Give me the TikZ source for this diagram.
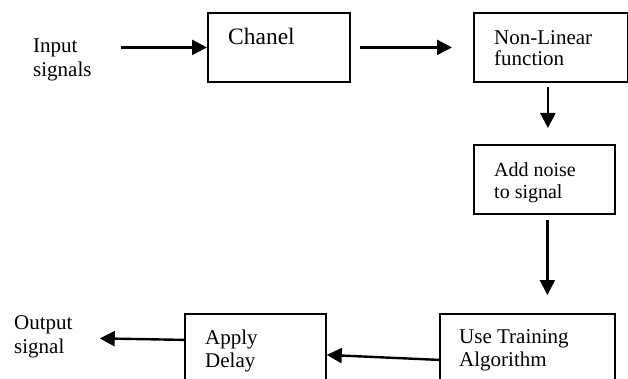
\documentclass[tikz,border=0pt]{standalone}
\usepackage{fontspec}
\setmainfont{Liberation Serif}
\usetikzlibrary{arrows.meta}

\tikzset{
  blk/.style={draw, line width=1.8pt, inner sep=0pt, anchor=north west},
  lbl/.style={inner sep=0pt, anchor=base west, align=left, font=\fontsize{21}{23.5}\selectfont},
  arr/.style={line width=2.4pt, -{Triangle[length=15pt,width=15pt]}}
}

\begin{document}
\begin{tikzpicture}[x=1pt, y=-1pt]
\clip (0,0) rectangle (628,379);

% blocks
\node[blk, minimum width=142pt, minimum height=69pt] (chanel) at (207,12) {};
\node[blk, minimum width=154pt, minimum height=69pt] (nonlin) at (473,12) {};
\node[blk, minimum width=141pt, minimum height=69pt] (noise) at (473,144) {};
\node[blk, minimum width=175pt, minimum height=80pt] (train) at (439,313) {};
\node[blk, minimum width=141pt, minimum height=80pt] (delay) at (184,313) {};

% texts (base = last line)
\node[lbl, font=\fontsize{21}{24}\selectfont] (input) at (33,77) {Input\\signals};
\node[lbl, font=\fontsize{23.5}{26}\selectfont] (chaneltxt) at (228,45) {Chanel};
\node[lbl, font=\fontsize{21}{21}\selectfont] (nonlintxt) at (494,66) {Non-Linear\\function};
\node[lbl, font=\fontsize{20}{22}\selectfont] (noisetxt) at (494,199) {Add noise\\to signal};
\node[lbl, font=\fontsize{21}{23}\selectfont] (traintxt) at (459,366) {Use Training\\Algorithm};
\node[lbl, font=\fontsize{21}{23}\selectfont] (delaytxt) at (205,367) {Apply\\Delay};
\node[lbl, font=\fontsize{21}{24}\selectfont] (output) at (14,353) {Output\\signal};

% connectors
\draw[arr, shorten <=29pt] (input.east |- chanel.west) -- (chanel.west);
\draw[arr, shorten <=9pt, shorten >=21pt] (chanel.east) -- (nonlin.west);
\draw[arr, shorten <=4pt, shorten >=16pt] ([xshift=-3pt]nonlin.south) -- ([xshift=-3pt]nonlin.south |- noise.north);
\draw[arr, shorten <=5pt, shorten >=18pt] ([xshift=3pt]noise.south) -- ([xshift=3pt]noise.south |- train.north);
\draw[arr] ([yshift=-6pt]train.west) -- ([yshift=-1pt]delay.east);
\draw[arr, shorten >=27pt] ([yshift=14pt]delay.west) -- ([yshift=16pt]delay.west -| output.east);
\end{tikzpicture}
\end{document}
